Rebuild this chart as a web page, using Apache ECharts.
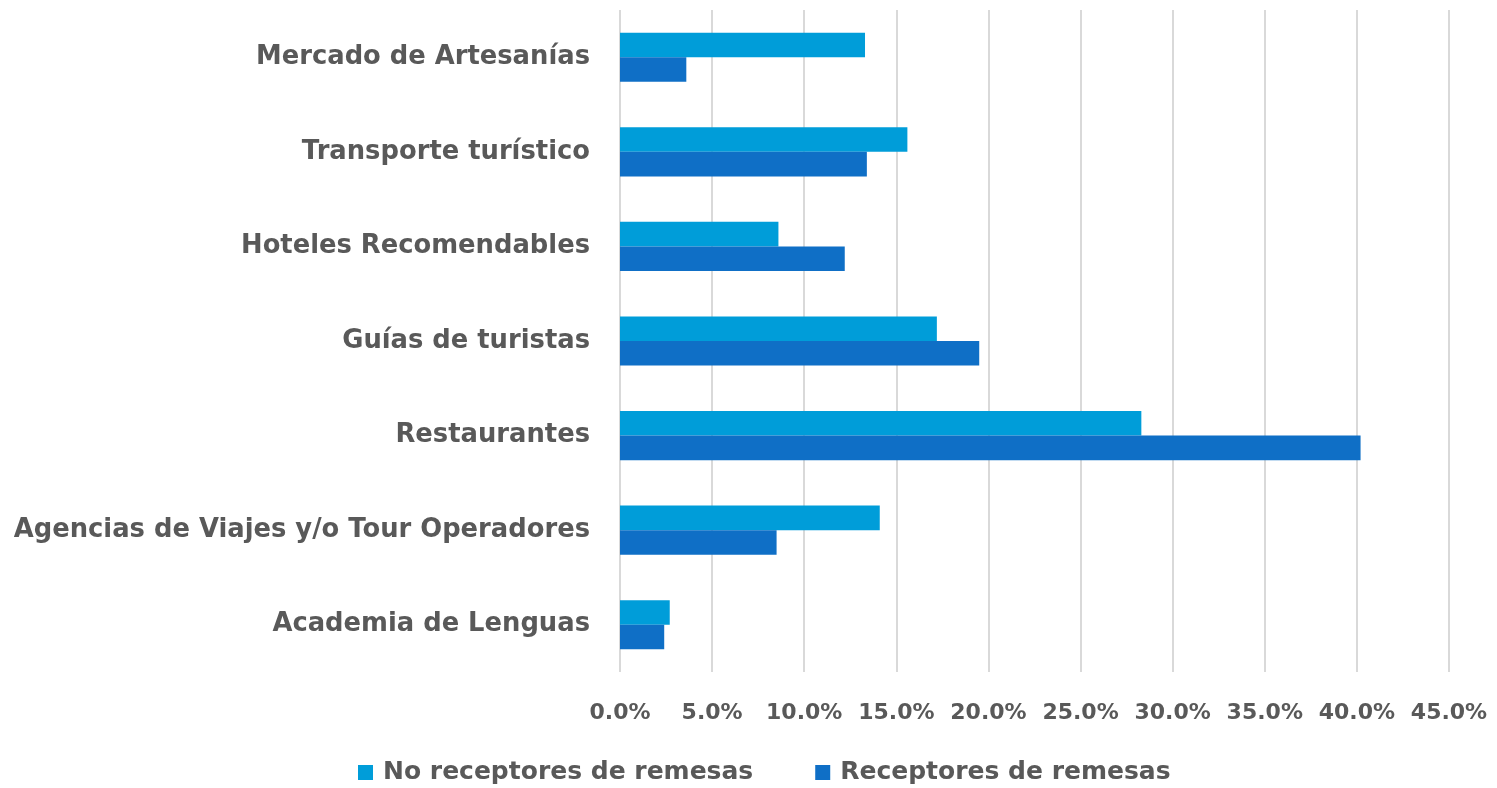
<!DOCTYPE html>
<html>
<head>
<meta charset="utf-8">
<script src="https://cdn.jsdelivr.net/npm/echarts@6/dist/echarts.min.js"></script>
<style>
  html, body { margin: 0; padding: 0; background: #fff; }
  #chart { width: 1497px; height: 788px; }
</style>
</head>
<body>
<div id="chart"></div>
<script>
// categories top to bottom
const categories = [
  'Mercado de Artesanías',
  'Transporte turístico',
  'Hoteles Recomendables',
  'Guías de turistas',
  'Restaurantes',
  'Agencias de Viajes y/o Tour Operadores',
  'Academia de Lenguas'
]
const noReceptores = [13.3, 15.6, 8.6, 17.2, 28.3, 14.1, 2.7]
const receptores = [3.6, 13.4, 12.2, 19.5, 40.2, 8.5, 2.4]
const seriesNames = ['No receptores de remesas', 'Receptores de remesas']

const font = '"DejaVu Sans", sans-serif'
const textColor = '#595959'

const chart = echarts.init(document.getElementById('chart'))

chart.setOption({
  backgroundColor: '#fff',
  animation: false,
  grid: { left: 620, right: 48, top: 10, bottom: 116, containLabel: false },
  legend: {
    bottom: -2,
    left: 353,
    itemWidth: 15,
    itemHeight: 15,
    itemGap: 62,
    icon: 'rect',
    textStyle: {
      fontFamily: font, fontWeight: 'bold', fontSize: 25, color: textColor,
      padding: [0, 0, 0, 5]
    }
  },
  xAxis: {
    type: 'value',
    min: 0,
    max: 45,
    interval: 5,
    axisLine: { show: false },
    axisTick: { show: false },
    splitLine: { lineStyle: { color: '#d9d9d9', width: 2 } },
    axisLabel: {
      formatter: v => v.toFixed(1) + '%',
      fontFamily: font, fontWeight: 'bold', fontSize: 22, color: textColor,
      margin: 30
    }
  },
  yAxis: {
    type: 'category',
    data: categories,
    inverse: true,
    axisLine: { show: false },
    axisTick: { show: false },
    axisLabel: {
      fontFamily: font, fontWeight: 'bold', fontSize: 25.8, color: textColor,
      margin: 30
    }
  },
  series: [
    {
      name: seriesNames[0],
      type: 'bar',
      data: noReceptores,
      itemStyle: { color: '#009DD9' },
      barGap: 0,
      barCategoryGap: '48%'
    },
    {
      name: seriesNames[1],
      type: 'bar',
      data: receptores,
      itemStyle: { color: '#0F6FC6' },
      barGap: 0,
      barCategoryGap: '48%'
    }
  ]
})
</script>
</body>
</html>
